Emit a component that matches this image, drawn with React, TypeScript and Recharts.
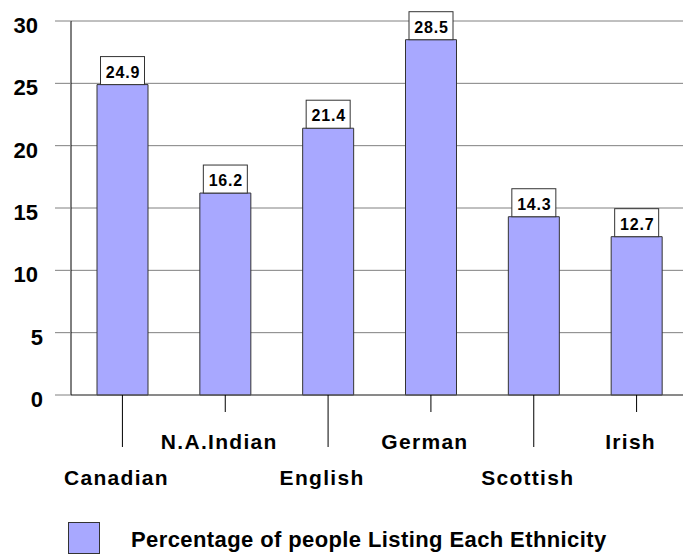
import React from 'react';
import { BarChart, Bar, XAxis, YAxis, CartesianGrid, LabelList } from 'recharts';

const categories = ['Canadian', 'N.A.Indian', 'English', 'German', 'Scottish', 'Irish'];
const percentages = [24.9, 16.2, 21.4, 28.5, 14.3, 12.7];
const yTicks = [0, 5, 10, 15, 20, 25, 30];
const seriesName = 'Percentage of people Listing Each Ethnicity';

const data = categories.map((name, i) => ({ name, value: percentages[i] }));

const FONT = '"Liberation Sans", Arial, Helvetica, sans-serif';
const BAR_FILL = '#a8a8ff';

const XTick = (props: any) => {
  const { x, y, payload, index } = props;
  const long = index % 2 === 0;
  const lineLen = long ? 52 : 17;
  const textY = long ? 90 : 54;
  return (
    <g>
      <line x1={x} y1={y} x2={x} y2={y + lineLen} stroke="#000" strokeWidth={1} />
      <text
        x={x - 6}
        y={y + textY}
        textAnchor="middle"
        fontFamily={FONT}
        fontWeight="bold"
        fontSize={21}
        letterSpacing={1.3}
        fill="#000"
      >
        {payload.value}
      </text>
    </g>
  );
};

const YTick = (props: any) => {
  const { y, payload } = props;
  const single = String(payload.value).length === 1;
  return (
    <text
      x={single ? 43 : 38}
      y={y + 12}
      textAnchor="end"
      fontFamily={FONT}
      fontWeight="bold"
      fontSize={22}
      fill="#000"
    >
      {payload.value}
    </text>
  );
};

const ValueBox = (props: any) => {
  const { x, y, width, value } = props;
  const cx = x + width / 2;
  const w = 44;
  const h = 28;
  return (
    <g>
      <rect x={cx - w / 2} y={y - h} width={w} height={h} fill="#fff" stroke="#333" strokeWidth={1} />
      <text
        x={cx + 0.5}
        y={y - 7}
        textAnchor="middle"
        fontFamily={FONT}
        fontWeight="bold"
        fontSize={16}
        letterSpacing={0.8}
        fill="#000"
      >
        {value}
      </text>
    </g>
  );
};

export default function App() {
  return (
    <div style={{ width: 683, height: 554, overflow: 'hidden', position: 'relative', background: '#fff' }}>
      <style>{'html,body{margin:0;padding:0;overflow:hidden;}'}</style>
      <BarChart
        width={700}
        height={554}
        data={data}
        margin={{ top: 21, right: 12, left: 0, bottom: 0 }}
      >
        <CartesianGrid horizontal={true} vertical={false} stroke="#808080" strokeWidth={1} />
        <XAxis
          dataKey="name"
          interval={0}
          height={159}
          tickLine={false}
          tickSize={0}
          tickMargin={0}
          axisLine={{ stroke: '#555' }}
          tick={<XTick />}
        />
        <YAxis
          domain={[0, 30]}
          ticks={yTicks}
          width={71}
          tickSize={16}
          tickLine={{ stroke: '#808080' }}
          axisLine={{ stroke: '#000' }}
          tick={<YTick />}
          interval={0}
        />
        <Bar dataKey="value" fill={BAR_FILL} stroke="#333" strokeWidth={1} barSize={51} isAnimationActive={false}>
          <LabelList dataKey="value" content={<ValueBox />} />
        </Bar>
      </BarChart>
      <div
        style={{
          position: 'absolute',
          left: 68,
          top: 522,
          width: 30,
          height: 30,
          background: BAR_FILL,
          border: '1px solid #333',
        }}
      />
      <div
        style={{
          position: 'absolute',
          left: 131,
          top: 527,
          fontFamily: FONT,
          fontWeight: 'bold',
          fontSize: 22,
          letterSpacing: 0.4,
          lineHeight: '26px',
          color: '#000',
          whiteSpace: 'nowrap',
        }}
      >
        {seriesName}
      </div>
    </div>
  );
}
